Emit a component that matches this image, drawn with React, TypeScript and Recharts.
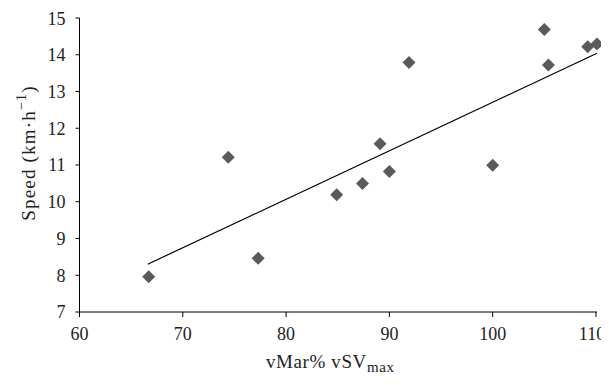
import { ScatterChart, Scatter, XAxis, YAxis } from 'recharts';

// vMar% of vSVmax vs marathon speed
const vMarPct = [66.7, 74.4, 77.3, 84.9, 87.4, 89.1, 90.0, 91.9, 100.0, 105.0, 105.4, 109.2, 110.1];
const speedKmh = [7.96, 11.21, 8.46, 10.19, 10.5, 11.58, 10.82, 13.79, 10.99, 14.69, 13.72, 14.22, 14.29];

// linear fit endpoints
const fitX = [66.6, 110.1];
const fitY = [8.3, 14.04];

const X_TICKS = [60, 70, 80, 90, 100, 110];
const Y_TICKS = [7, 8, 9, 10, 11, 12, 13, 14, 15];

const FONT = '"Liberation Serif", "DejaVu Serif", serif';

const points = vMarPct.map((x, i) => ({ x, y: speedKmh[i] }));
const fitLine = fitX.map((x, i) => ({ x, y: fitY[i] }));

// grey diamond marker
function Diamond(props: any) {
  const { cx, cy } = props;
  const r = 6.5;
  return (
    <polygon
      points={`${cx},${cy - r} ${cx + r},${cy} ${cx},${cy + r} ${cx - r},${cy}`}
      fill="#5a5a5a"
    />
  );
}

// x tick; the last label is pulled in so it stays inside the frame
function renderXTick(props: any) {
  const { x, y, payload } = props;
  const tx = Math.min(Number(x), 584);
  return (
    <text
      key={payload.value}
      x={tx}
      y={Number(y) + 16}
      textAnchor="middle"
      fill="#222"
      fontSize={18}
      fontFamily={FONT}
    >
      {payload.value}
    </text>
  );
}

export default function App() {
  return (
    <div style={{ width: 601, height: 369 }}>
      <ScatterChart
        width={601}
        height={369}
        margin={{ top: 10, right: 12, left: 0, bottom: 0 }}
      >
        <XAxis
          type="number"
          dataKey="x"
          domain={[60, 110]}
          ticks={X_TICKS}
          height={65}
          tickSize={5}
          tickMargin={7}
          axisLine={{ stroke: '#000' }}
          tickLine={{ stroke: '#000' }}
          tick={renderXTick}
          label={({ viewBox }: any) => (
            <text
              x={viewBox.x + viewBox.width / 2 - 8}
              y={viewBox.y + 56}
              textAnchor="middle"
              fill="#222"
              fontSize={19}
              fontFamily={FONT}
              letterSpacing={0.6}
            >
              vMar% vSV
              <tspan fontSize={15} dy={4}>max</tspan>
            </text>
          )}
        />
        <YAxis
          type="number"
          dataKey="y"
          domain={[7, 15]}
          ticks={Y_TICKS}
          width={71.5}
          tickSize={4}
          tickMargin={10}
          axisLine={{ stroke: '#000' }}
          tickLine={{ stroke: '#000' }}
          tick={{ fill: '#222', fontSize: 18, fontFamily: FONT }}
          label={({ viewBox }: any) => {
            const cx = 20;
            const cy = viewBox.y + viewBox.height / 2 - 12;
            return (
              <text
                x={cx}
                y={cy}
                transform={`rotate(-90, ${cx}, ${cy})`}
                textAnchor="middle"
                dominantBaseline="central"
                fill="#222"
                fontSize={19}
                fontFamily={FONT}
                letterSpacing={1.2}
              >
                Speed (km·h
                <tspan fontSize={14} dy={-7}>−1</tspan>
                <tspan dy={7}>)</tspan>
              </text>
            );
          }}
        />
        <Scatter
          data={fitLine}
          line={{ stroke: '#000', strokeWidth: 1.2 }}
          shape={() => <g />}
          isAnimationActive={false}
        />
        <Scatter data={points} shape={Diamond} isAnimationActive={false} />
      </ScatterChart>
    </div>
  );
}
